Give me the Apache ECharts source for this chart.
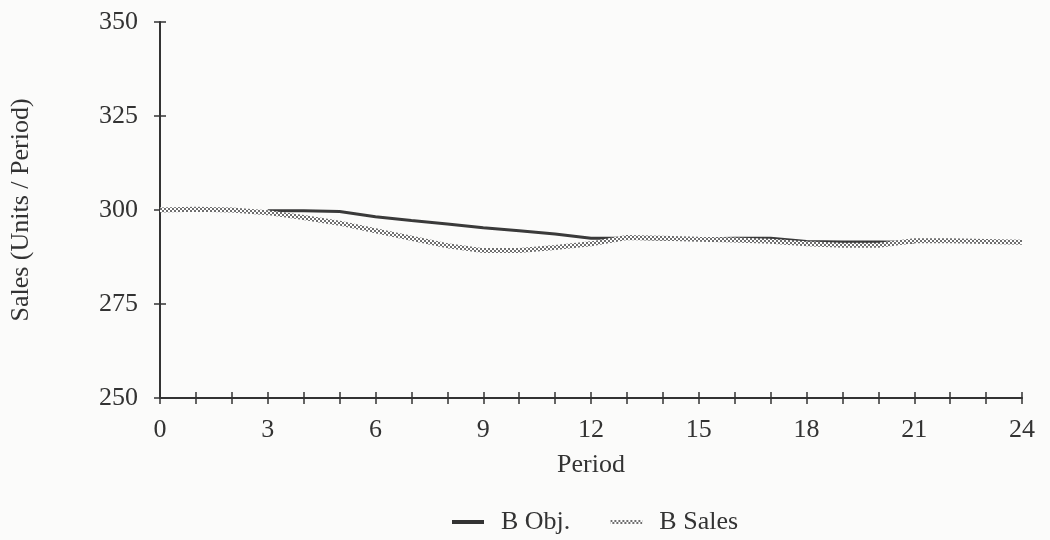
<!DOCTYPE html>
<html>
<head>
<meta charset="utf-8">
<script src="https://cdn.jsdelivr.net/npm/echarts@6/dist/echarts.min.js"></script>
<style>
html, body { margin: 0; padding: 0; background: #fbfbfa; }
#chart { width: 1050px; height: 540px; }
</style>
</head>
<body>
<div id="chart"></div>
<script>
// 数据
var periods = [0,1,2,3,4,5,6,7,8,9,10,11,12,13,14,15,16,17,18,19,20,21,22,23,24];
var salesValues = [300, 300.2, 300, 299.3, 298, 296.5, 294.5, 292.5, 290.5, 289.2, 289.2, 290, 291,
                   292.7, 292.5, 292.2, 292, 291.7, 291, 290.6, 290.6, 291.8, 291.8, 291.6, 291.4];
var objPeriods = [3,4,5,6,7,8,9,10,11,12,13,14,15,16,17,18,19,20,21];
var objValues = [299.8, 299.8, 299.6, 298.2, 297.2, 296.3, 295.3, 294.5, 293.6, 292.5, 292.5,
                 292.3, 292.3, 292.5, 292.5, 291.6, 291.5, 291.5, 291.4];
var seriesNames = ['B Obj.', 'B Sales'];
var yTicks = [250, 275, 300, 325, 350];

function pairs(xs, ys) {
    var out = [];
    for (var i = 0; i < xs.length; i++) out.push([xs[i], ys[i]]);
    return out;
}

// 网点图案，模仿扫描图上的灰色花纹线
var pat = document.createElement('canvas');
pat.width = 4; pat.height = 4;
var pc = pat.getContext('2d');
pc.fillStyle = '#ffffff';
pc.fillRect(0, 0, 4, 4);
pc.fillStyle = '#6e6e6e';
pc.fillRect(0, 0, 2, 2);
pc.fillRect(2, 2, 2, 2);
var patColor = { image: pat, repeat: 'repeat' };

var serif = '"Liberation Serif", "DejaVu Serif", serif';
var axisColor = '#333';
var fs = 26;

var chart = echarts.init(document.getElementById('chart'));

var option = {
    backgroundColor: '#fbfbfa',
    animation: false,
    textStyle: { fontFamily: serif },
    grid: { left: 160, right: 28, top: 22, bottom: 142 },
    legend: {
        data: [
            { name: seriesNames[0], icon: 'rect', itemStyle: { color: '#333' } },
            { name: seriesNames[1], icon: 'rect', itemStyle: { color: patColor } }
        ],
        top: 504,
        left: 447,
        itemWidth: 32,
        itemHeight: 4,
        itemGap: 40,
        textStyle: { fontFamily: serif, fontSize: fs, color: '#333', padding: [0, 0, 0, 12] }
    },
    xAxis: [{
        type: 'value',
        min: 0, max: 24, interval: 1,
        name: 'Period',
        nameLocation: 'middle',
        nameGap: 54,
        nameTextStyle: { fontFamily: serif, fontSize: fs, color: '#333' },
        axisLine: { lineStyle: { color: axisColor, width: 2 } },
        axisTick: { length: 6, lineStyle: { color: axisColor, width: 1.5 } },
        axisLabel: {
            fontFamily: serif, fontSize: fs, color: '#333', margin: 19,
            formatter: function (v) { return v % 3 === 0 ? String(v) : ''; }
        },
        splitLine: { show: false }
    }, {
        // 刻度线上半段（穿过坐标轴）
        type: 'value',
        position: 'bottom',
        offset: -6,
        min: 0, max: 24, interval: 1,
        axisLine: { show: false },
        axisTick: { length: 6, lineStyle: { color: axisColor, width: 1.5 } },
        axisLabel: { show: false },
        splitLine: { show: false }
    }],
    yAxis: [{
        type: 'value',
        min: yTicks[0], max: yTicks[yTicks.length - 1], interval: 25,
        name: 'Sales (Units / Period)',
        nameLocation: 'middle',
        nameRotate: 90,
        nameGap: 126,
        nameTextStyle: { fontFamily: serif, fontSize: fs, color: '#333' },
        axisLine: { show: true, lineStyle: { color: axisColor, width: 2 } },
        axisTick: { show: true, length: 6, lineStyle: { color: axisColor, width: 1.5 } },
        axisLabel: { fontFamily: serif, fontSize: fs, color: '#333', margin: 22 },
        splitLine: { show: false }
    }, {
        type: 'value',
        position: 'left',
        offset: -6,
        min: yTicks[0], max: yTicks[yTicks.length - 1], interval: 25,
        axisLine: { show: false },
        axisTick: { show: true, length: 6, lineStyle: { color: axisColor, width: 1.5 } },
        axisLabel: { show: false },
        splitLine: { show: false }
    }],
    series: [{
        name: seriesNames[0],
        type: 'line',
        data: pairs(objPeriods, objValues),
        symbol: 'none',
        z: 2,
        lineStyle: { color: '#3a3a3a', width: 3 },
        itemStyle: { color: '#3a3a3a' }
    }, {
        name: seriesNames[1],
        type: 'line',
        data: pairs(periods, salesValues),
        symbol: 'none',
        z: 3,
        lineStyle: { color: patColor, width: 5 },
        itemStyle: { color: '#9a9a9a' }
    }]
};

chart.setOption(option);

window.onresize = function () {
    chart.resize();
};
</script>
</body>
</html>
